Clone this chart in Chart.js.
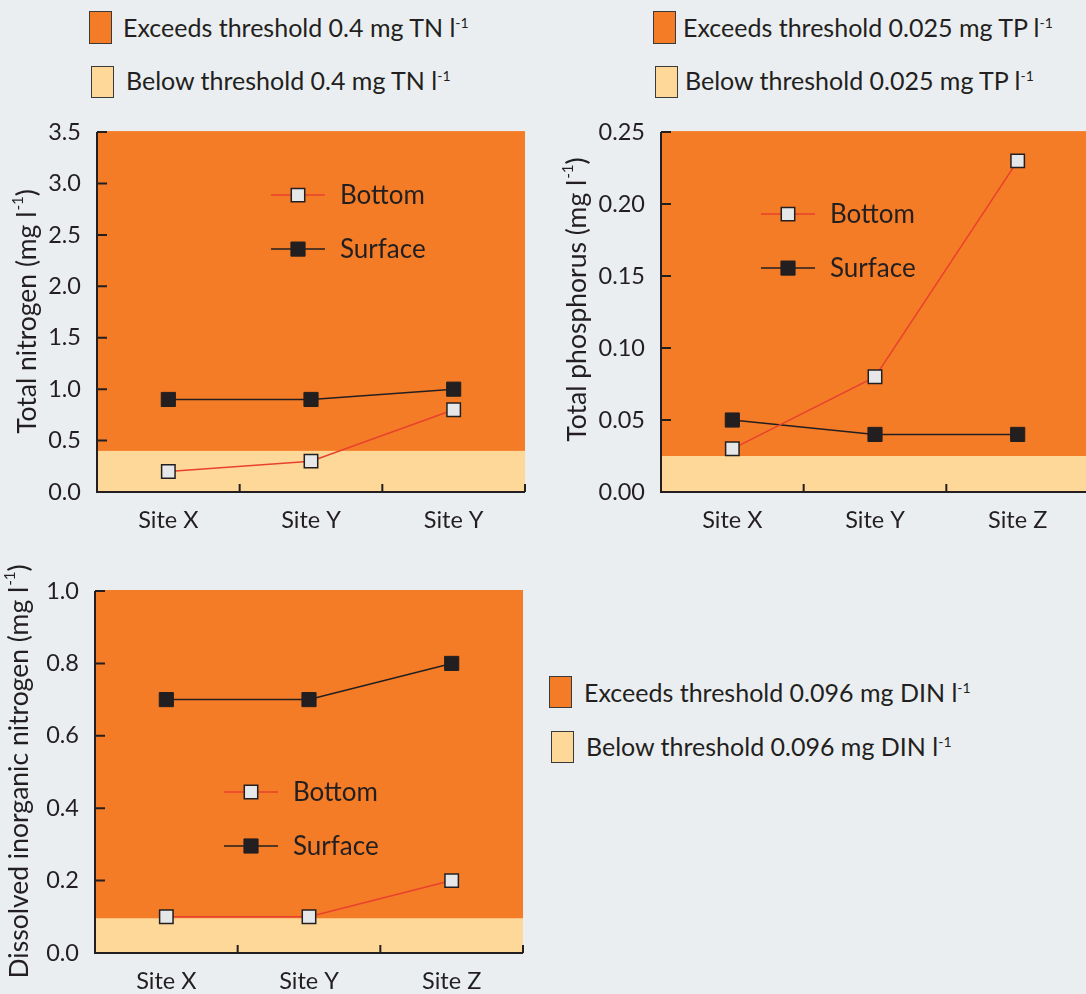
<!DOCTYPE html>
<html>
<head>
<meta charset="utf-8">
<script src="https://cdn.jsdelivr.net/npm/chart.js@4.4.0/dist/chart.umd.min.js"></script>
<style>
  html, body { margin: 0; padding: 0; }
  body { width: 1086px; height: 994px; overflow: hidden; position: relative; background: #eaeef1; font-family: Lato, sans-serif; color: #231f20; }
  canvas { position: absolute; }
  .sw { position: absolute; box-sizing: border-box; border: 1.5px solid #3a3a3a; }
  .txt { position: absolute; font-size: 25px; height: 30px; line-height: 30px; white-space: nowrap; }
  .txt sup { font-size: 14px; position: relative; top: -9px; vertical-align: baseline; }
</style>
</head>
<body>
<canvas id="tn" width="540" height="440" style="left:0;top:110px"></canvas>
<canvas id="tp" width="560" height="440" style="left:540px;top:110px"></canvas>
<canvas id="din" width="540" height="434" style="left:0;top:560px"></canvas>

<script>
// sites
const sitesTN = ["Site X", "Site Y", "Site Y"];
const sitesTP = ["Site X", "Site Y", "Site Z"];
const sitesDIN = ["Site X", "Site Y", "Site Z"];

// mg l-1
const tnBottom = [0.2, 0.3, 0.8];
const tnSurface = [0.9, 0.9, 1.0];
const tpBottom = [0.03, 0.08, 0.23];
const tpSurface = [0.05, 0.04, 0.04];
const dinBottom = [0.1, 0.1, 0.2];
const dinSurface = [0.7, 0.7, 0.8];

// thresholds
const tnLimit = 0.4;
const tpLimit = 0.025;
const dinLimit = 0.096;

// tick labels
const tnTicks = ["0.0", "0.5", "1.0", "1.5", "2.0", "2.5", "3.0", "3.5"];
const tpTicks = ["0.00", "0.05", "0.10", "0.15", "0.20", "0.25"];
const dinTicks = ["0.0", "0.2", "0.4", "0.6", "0.8", "1.0"];

const INK = "#231f20";
const ORANGE = "#f47c27";
const PALE = "#fdd898";
const FONT = "Lato, sans-serif";

// threshold keys (html, outside the plots)
function addKey(x, y, w, h, color, tx, ty, html) {
  const s = document.createElement("div");
  s.className = "sw";
  s.style.cssText = `left:${x}px;top:${y}px;width:${w}px;height:${h}px;background:${color}`;
  document.body.appendChild(s);
  const t = document.createElement("div");
  t.className = "txt";
  t.style.left = tx + "px";
  t.style.top = (ty - 15) + "px";
  t.innerHTML = html;
  document.body.appendChild(t);
}
addKey(89, 11, 23, 33, ORANGE, 123, 27, `Exceeds threshold ${tnLimit} mg TN l<sup>-1</sup>`);
addKey(91, 66, 23, 32, PALE, 126, 80, `Below threshold ${tnLimit} mg TN l<sup>-1</sup>`);
addKey(653, 11, 23, 33, ORANGE, 683, 27, `Exceeds threshold ${tpLimit} mg TP l<sup>-1</sup>`);
addKey(655, 66, 23, 32, PALE, 685, 80, `Below threshold ${tpLimit} mg TP l<sup>-1</sup>`);
addKey(549, 676, 23, 32, ORANGE, 584, 692, `Exceeds threshold ${dinLimit} mg DIN l<sup>-1</sup>`);
addKey(551, 731, 23, 32, PALE, 586, 746, `Below threshold ${dinLimit} mg DIN l<sup>-1</sup>`);

// orange area, pale band under the threshold
const bands = {
  id: "bands",
  beforeDatasetsDraw(chart, args, opts) {
    const { ctx, chartArea: a } = chart;
    const yLim = chart.scales.y.getPixelForValue(opts.limit);
    ctx.save();
    ctx.fillStyle = ORANGE;
    ctx.fillRect(a.left, a.top - 1, a.right - a.left, a.bottom - a.top + 1);
    ctx.fillStyle = PALE;
    ctx.fillRect(a.left, yLim, a.right - a.left, a.bottom - yLim);
    ctx.restore();
  }
};

// axis lines with inward ticks
const frame = {
  id: "frame",
  afterDraw(chart) {
    const { ctx, chartArea: a } = chart;
    const x = chart.scales.x, y = chart.scales.y;
    ctx.save();
    ctx.strokeStyle = INK;
    ctx.lineWidth = 2;
    ctx.beginPath();
    ctx.moveTo(a.left, a.top);
    ctx.lineTo(a.left, a.bottom);
    ctx.lineTo(a.right, a.bottom);
    y.ticks.forEach((t, i) => {
      const py = y.getPixelForTick(i);
      ctx.moveTo(a.left, py);
      ctx.lineTo(a.left + 10, py);
    });
    const half = (x.getPixelForTick(1) - x.getPixelForTick(0)) / 2;
    x.ticks.forEach((t, i) => {
      const px = x.getPixelForTick(i) + half;
      ctx.moveTo(px, a.bottom);
      ctx.lineTo(px, a.bottom - 8);
    });
    ctx.stroke();
    ctx.restore();
  }
};

// rotated y title with superscript, plus the Bottom / Surface key inside the plot
const labels = {
  id: "labels",
  afterDraw(chart, args, opts) {
    const { ctx, chartArea: a } = chart;
    const big = `26.5px ${FONT}`, small = `15px ${FONT}`;
    ctx.save();
    ctx.fillStyle = INK;
    ctx.textBaseline = "middle";
    ctx.translate(opts.titleX, (a.top + a.bottom) / 2 + opts.titleShift);
    ctx.rotate(-Math.PI / 2);
    ctx.font = big;
    const main = opts.title + " (mg l";
    const w1 = ctx.measureText(main).width;
    ctx.font = small;
    const w2 = ctx.measureText("-1").width;
    ctx.font = big;
    const w3 = ctx.measureText(")").width;
    let sx = -(w1 + w2 + w3) / 2;
    ctx.fillText(main, sx, 0);
    ctx.font = small;
    ctx.fillText("-1", sx + w1 + 1, -9);
    ctx.font = big;
    ctx.fillText(")", sx + w1 + w2 + 1, 0);
    ctx.restore();

    ctx.save();
    chart.data.datasets.forEach((ds, i) => {
      const lx = a.left + opts.keyX;
      const ly = a.top + opts.keyY + i * 54;
      ctx.strokeStyle = ds.borderColor;
      ctx.lineWidth = ds.borderWidth;
      ctx.beginPath();
      ctx.moveTo(lx, ly);
      ctx.lineTo(lx + 54, ly);
      ctx.stroke();
      ctx.fillStyle = ds.pointBackgroundColor;
      ctx.strokeStyle = ds.pointBorderColor;
      ctx.lineWidth = ds.pointBorderWidth;
      Chart.helpers.drawPoint(ctx, { pointStyle: "rect", radius: ds.pointRadius, borderWidth: ds.pointBorderWidth }, lx + 27, ly);
      ctx.fillStyle = INK;
      ctx.font = `26px ${FONT}`;
      ctx.textBaseline = "middle";
      ctx.fillText(ds.label, lx + 69, ly + 1);
    });
    ctx.restore();
  }
};

function series(bottom, surface) {
  return [
    { label: "Bottom", data: bottom, borderColor: "#e8412e", borderWidth: 1.5, tension: 0,
      pointStyle: "rect", pointRadius: 9.5, pointBackgroundColor: "#e6e7e8", pointBorderColor: INK, pointBorderWidth: 1.5 },
    { label: "Surface", data: surface, borderColor: INK, borderWidth: 1.5, tension: 0,
      pointStyle: "rect", pointRadius: 10, pointBackgroundColor: INK, pointBorderColor: INK, pointBorderWidth: 1 }
  ];
}

function makeChart(id, sites, bottom, surface, limit, max, step, tickLabels, lay) {
  return new Chart(document.getElementById(id), {
    type: "line",
    data: { labels: sites, datasets: series(bottom, surface) },
    options: {
      responsive: false,
      animation: false,
      events: [],
      layout: { padding: { top: lay.top, right: lay.right, left: 0, bottom: 0 } },
      plugins: {
        legend: { display: false },
        tooltip: { enabled: false },
        bands: { limit: limit },
        labels: lay.labels
      },
      scales: {
        x: {
          offset: true,
          grid: { display: false },
          border: { display: false },
          ticks: { color: INK, font: { family: FONT, size: 23.5 }, padding: 6, maxRotation: 0 },
          afterFit(s) { s.height = lay.xh; }
        },
        y: {
          min: 0, max: max,
          grid: { display: false },
          border: { display: false },
          ticks: { stepSize: step, color: INK, font: { family: FONT, size: 23.5 }, padding: 8,
            callback: (v, i) => tickLabels[i] },
          afterFit(s) { s.width = lay.yw; }
        }
      }
    },
    plugins: [bands, frame, labels]
  });
}

makeChart("tn", sitesTN, tnBottom, tnSurface, tnLimit, 3.5, 0.5, tnTicks,
  { top: 19, right: 15, xh: 58, yw: 97,
    labels: { title: "Total nitrogen", titleX: 27, titleShift: 0, keyX: 174, keyY: 63 } });
makeChart("tp", sitesTP, tpBottom, tpSurface, tpLimit, 0.25, 0.05, tpTicks,
  { top: 19, right: 10, xh: 58, yw: 121,
    labels: { title: "Total phosphorus", titleX: 37, titleShift: -12, keyX: 100, keyY: 82 } });
makeChart("din", sitesDIN, dinBottom, dinSurface, dinLimit, 1.0, 0.2, dinTicks,
  { top: 31, right: 17, xh: 41, yw: 95,
    labels: { title: "Dissolved inorganic nitrogen", titleX: 19, titleShift: 0, keyX: 129, keyY: 201 } });
</script>
</body>
</html>
